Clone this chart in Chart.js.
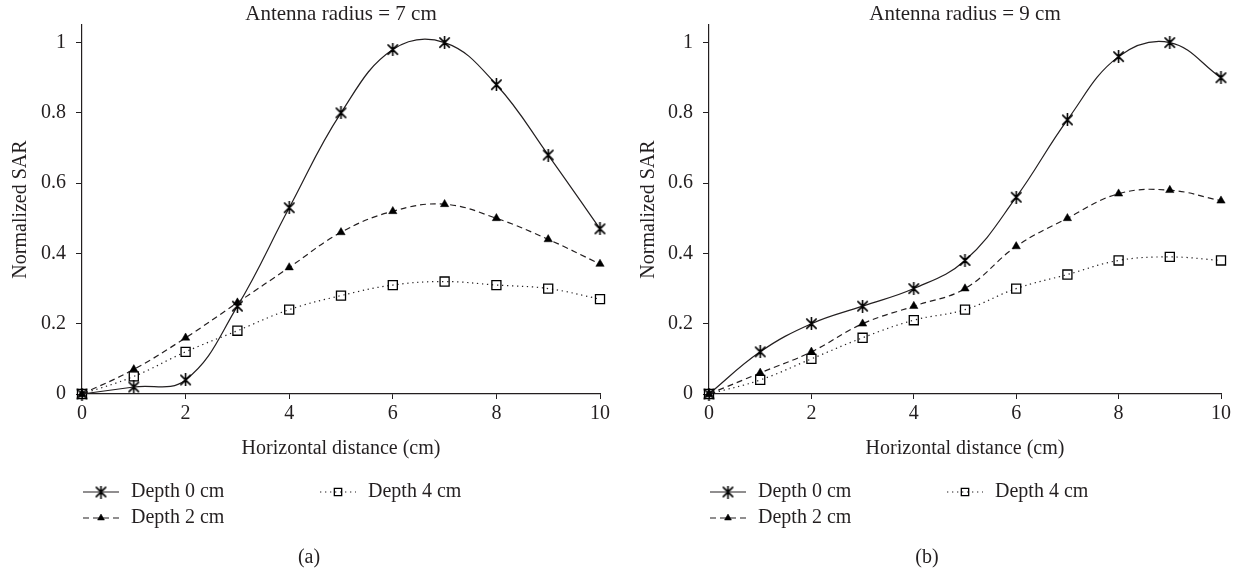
<!DOCTYPE html>
<html>
<head>
<meta charset="utf-8">
<title>Normalized SAR</title>
<script src="https://cdn.jsdelivr.net/npm/chart.js@4.4.1/dist/chart.umd.min.js"></script>
<style>
  html, body { margin: 0; padding: 0; background: #fff; }
  #wrap { position: relative; width: 1236px; height: 573px; }
  .panel { position: absolute; top: 0; width: 618px; height: 573px; }
</style>
</head>
<body>
<div id="wrap">
  <div class="panel" style="left:0"><canvas id="chartA"></canvas></div>
  <div class="panel" style="left:618px"><canvas id="chartB"></canvas></div>
</div>
<script>
// horizontal distance (cm)
const distances = [0, 1, 2, 3, 4, 5, 6, 7, 8, 9, 10];
const xTicks = [0, 2, 4, 6, 8, 10];
const yTicks = [0, 0.2, 0.4, 0.6, 0.8, 1];
const yTickLabels = ['0', '0.2', '0.4', '0.6', '0.8', '1'];
const seriesNames = ['Depth 0 cm', 'Depth 2 cm', 'Depth 4 cm'];

// (a) antenna radius 7 cm
const depth0A = [0, 0.02, 0.04, 0.25, 0.53, 0.80, 0.98, 1.0, 0.88, 0.68, 0.47];
const depth2A = [0, 0.07, 0.16, 0.26, 0.36, 0.46, 0.52, 0.54, 0.50, 0.44, 0.37];
const depth4A = [0, 0.05, 0.12, 0.18, 0.24, 0.28, 0.31, 0.32, 0.31, 0.30, 0.27];

// (b) antenna radius 9 cm
const depth0B = [0, 0.12, 0.20, 0.25, 0.30, 0.38, 0.56, 0.78, 0.96, 1.0, 0.90];
const depth2B = [0, 0.06, 0.12, 0.20, 0.25, 0.30, 0.42, 0.50, 0.57, 0.58, 0.55];
const depth4B = [0, 0.04, 0.10, 0.16, 0.21, 0.24, 0.30, 0.34, 0.38, 0.39, 0.38];

const INK = '#231f20';
const FONT = "'Liberation Serif', 'Times New Roman', serif";

// asterisk marker (X with a vertical bar)
function makeAsterisk(size) {
  const c = document.createElement('canvas');
  c.width = size; c.height = size;
  const g = c.getContext('2d');
  const m = size / 2, r = size / 2 - 0.5, d = r * 0.78;
  g.strokeStyle = '#000';
  g.lineWidth = 1.6;
  g.lineCap = 'round';
  g.beginPath();
  g.moveTo(m, m - r); g.lineTo(m, m + r);
  g.moveTo(m - d, m - d); g.lineTo(m + d, m + d);
  g.moveTo(m + d, m - d); g.lineTo(m - d, m + d);
  g.stroke();
  return c;
}
const asterisk = makeAsterisk(13);

function toPoints(vals) {
  return distances.map((x, i) => ({ x: x, y: vals[i] }));
}

function makeDatasets(d0, d2, d4) {
  const common = { borderColor: INK, borderWidth: 1.2, tension: 0.4, clip: false, fill: false };
  return [
    Object.assign({}, common, {
      label: seriesNames[0], data: toPoints(d0),
      pointStyle: asterisk, pointRadius: 6, pointBorderColor: INK, pointBackgroundColor: INK
    }),
    Object.assign({}, common, {
      label: seriesNames[1], data: toPoints(d2), borderDash: [6, 4],
      pointStyle: 'triangle', pointRadius: 4.8, pointBorderWidth: 0.5,
      pointBackgroundColor: '#000', pointBorderColor: '#000'
    }),
    Object.assign({}, common, {
      label: seriesNames[2], data: toPoints(d4), borderDash: [1.3, 3.7],
      pointStyle: 'rect', pointRadius: 6.4, pointBorderWidth: 1.3,
      pointBackgroundColor: 'rgba(0,0,0,0)', pointBorderColor: '#000'
    })
  ];
}

// legend block + panel caption under the plot
const legendCaption = {
  id: 'legendCaption',
  afterDraw(chart, args, opts) {
    const ctx = chart.ctx;
    const left = chart.chartArea.left;
    const slots = [[1, 492], [1, 518], [238, 492]];
    ctx.save();
    chart.data.datasets.forEach((ds, i) => {
      const x0 = left + slots[i][0], y = slots[i][1];
      ctx.strokeStyle = INK;
      ctx.lineWidth = ds.borderWidth;
      ctx.setLineDash(ds.borderDash || []);
      ctx.beginPath();
      ctx.moveTo(x0, y);
      ctx.lineTo(x0 + 36, y);
      ctx.stroke();
      ctx.setLineDash([]);
      ctx.fillStyle = ds.pointBackgroundColor;
      ctx.strokeStyle = ds.pointBorderColor;
      ctx.lineWidth = ds.pointBorderWidth || 1;
      const r = i === 2 ? 5.2 : (i === 1 ? 4 : 5);
      Chart.helpers.drawPoint(ctx, { pointStyle: ds.pointStyle, radius: r, rotation: 0, borderWidth: ds.pointBorderWidth || 0 }, x0 + 18, y);
      ctx.fillStyle = INK;
      ctx.font = '20px ' + FONT;
      ctx.textAlign = 'left';
      ctx.textBaseline = 'middle';
      ctx.fillText(ds.label, x0 + 48, y);
    });
    ctx.textAlign = 'center';
    ctx.fillText(opts.caption, chart.width / 2, 558);
    ctx.restore();
  }
};

function makeChart(id, title, caption, datasets, pad, yWidth) {
  return new Chart(document.getElementById(id), {
    type: 'line',
    data: { datasets: datasets },
    plugins: [legendCaption],
    options: {
      responsive: true,
      maintainAspectRatio: false,
      animation: false,
      layout: { padding: pad },
      plugins: {
        legend: { display: false },
        tooltip: { enabled: false },
        title: {
          display: true, text: title, color: INK, fullSize: false,
          font: { family: FONT, size: 21, weight: 'normal', lineHeight: 1 },
          padding: { top: 4, bottom: 0 }
        },
        legendCaption: { caption: caption }
      },
      scales: {
        x: {
          type: 'linear', min: 0, max: 10,
          afterBuildTicks: s => { s.ticks = xTicks.map(v => ({ value: v })); },
          afterFit: s => { s.height = 67; },
          grid: { drawOnChartArea: false, tickLength: 5, color: INK, tickColor: INK },
          border: { display: true, color: INK, width: 1.2 },
          ticks: { color: INK, padding: 3, maxRotation: 0, font: { family: FONT, size: 20 } },
          title: {
            display: true, text: 'Horizontal distance (cm)', color: INK,
            padding: { top: 0, bottom: 0 }, font: { family: FONT, size: 20 }
          }
        },
        y: {
          type: 'linear', min: 0, max: 1.05,
          afterBuildTicks: s => { s.ticks = yTicks.map(v => ({ value: v })); },
          afterFit: s => { s.width = yWidth; },
          grid: { drawOnChartArea: false, tickLength: 6, color: INK, tickColor: INK },
          border: { display: true, color: INK, width: 1.2 },
          ticks: {
            color: INK, padding: 10, font: { family: FONT, size: 20 },
            callback: (v, i) => yTickLabels[i]
          },
          title: {
            display: true, text: 'Normalized SAR', color: INK,
            padding: { top: 9, bottom: 0 }, font: { family: FONT, size: 20 }
          }
        }
      }
    }
  });
}

makeChart('chartA', 'Antenna radius = 7 cm', '(a)',
  makeDatasets(depth0A, depth2A, depth4A), { left: 0, right: 18, top: 0, bottom: 112 }, 82);
makeChart('chartB', 'Antenna radius = 9 cm', '(b)',
  makeDatasets(depth0B, depth2B, depth4B), { left: 10, right: 15, top: 0, bottom: 112 }, 81);
</script>
</body>
</html>
